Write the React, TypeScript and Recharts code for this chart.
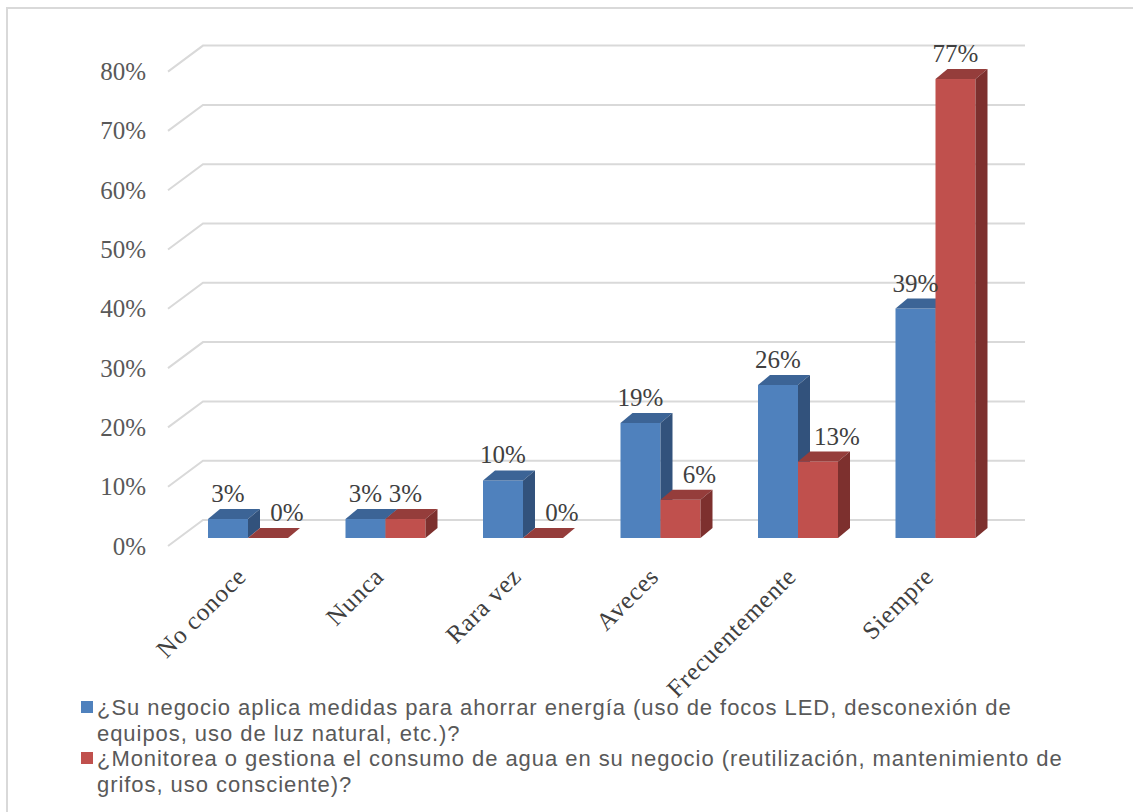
import { Bar, BarChart, CartesianGrid, LabelList, XAxis, YAxis } from "recharts";

// Respuestas (31 negocios) — porcentajes
const CATEGORIES = ["No conoce", "Nunca", "Rara vez", "Aveces", "Frecuentemente", "Siempre"];
const ENERGIA = [0.032, 0.032, 0.097, 0.194, 0.258, 0.387];
const AGUA = [0, 0.032, 0, 0.0645, 0.129, 0.774];
const SERIES_NAMES = [
  "¿Su negocio aplica medidas para ahorrar energía (uso de focos LED, desconexión de equipos, uso de luz natural, etc.)?",
  "¿Monitorea o gestiona el consumo de agua en su negocio (reutilización, mantenimiento de grifos, uso consciente)?",
];
const Y_TICKS = [0, 0.1, 0.2, 0.3, 0.4, 0.5, 0.6, 0.7, 0.8];

const BLUE = { front: "#4f81bd", top: "#3c6496", side: "#32527c" };
const RED = { front: "#c0504d", top: "#953d3b", side: "#7d302e" };

// fake 3D: bar depth, and where the front/back walls sit relative to the bar plane
const BAR_DX = 12;
const BAR_DY = 10;
const FRONT_DX = -11;
const FRONT_DY = 8;
const BACK_DX = 24;
const BACK_DY = -18;

const SERIF = "'Liberation Serif', 'Times New Roman', serif";
const SANS = "'Liberation Sans', Arial, sans-serif";

const rows = CATEGORIES.map((name, i) => ({ name, energia: ENERGIA[i], agua: AGUA[i] }));

const pct = (v: number) => `${Math.round(v * 100)}%`;

function Bar3D(props: any) {
  const { x, y, width: w, height: h, colors } = props;
  if (x == null || y == null) return null;
  return (
    <g>
      <rect x={x} y={y} width={w} height={Math.max(h, 0)} fill={colors.front} />
      <path
        d={`M${x},${y} L${x + BAR_DX},${y - BAR_DY} L${x + w + BAR_DX},${y - BAR_DY} L${x + w},${y} Z`}
        fill={colors.top}
      />
      <path
        d={`M${x + w},${y} L${x + w + BAR_DX},${y - BAR_DY} L${x + w + BAR_DX},${y + h - BAR_DY} L${x + w},${y + h} Z`}
        fill={colors.side}
      />
    </g>
  );
}

function GridLine3D(props: any) {
  const { x1, x2, y1 } = props;
  const fy = y1 + FRONT_DY;
  const by = y1 + BACK_DY;
  return (
    <path
      key={props.key}
      d={`M${x1 + FRONT_DX},${fy} L${x1 + BACK_DX},${by} L${x2 + 21},${by}`}
      fill="none"
      stroke="#d9d9d9"
      strokeWidth={2}
    />
  );
}

function YTick(props: any) {
  const { x, y, payload } = props;
  return (
    <text x={x - 33} y={y + FRONT_DY} dy="0.34em" textAnchor="end" fontFamily={SERIF} fontSize={25} fill="#595959">
      {pct(payload.value)}
    </text>
  );
}

function CategoryTick(props: any) {
  const { x, y, payload } = props;
  const ty = y + 40;
  return (
    <text
      x={x}
      y={ty}
      textAnchor="end"
      transform={`rotate(-45 ${x} ${ty})`}
      fontFamily={SERIF}
      fontSize={25}
      letterSpacing={0.8}
      fill="#404040"
    >
      {payload.value}
    </text>
  );
}

function makeLabel(shiftWhenShorter: boolean) {
  return (props: any) => {
    const { x, y, width, value, index } = props;
    // Excel nudges the water labels right when they sit next to a taller energy bar
    const dx = shiftWhenShorter && ENERGIA[index] > AGUA[index] ? 19 : 0;
    return (
      <text
        key={`lbl-${index}`}
        x={x + width / 2 + dx}
        y={y - 17}
        textAnchor="middle"
        fontFamily={SERIF}
        fontSize={25}
        fill="#404040"
      >
        {pct(value)}
      </text>
    );
  };
}

export default function App() {
  return (
    <div style={{ position: "absolute", left: 0, top: 0, width: 1133, height: 812, overflow: "hidden", background: "#fff" }}>
      <div
        style={{
          position: "absolute",
          left: 6,
          top: 7,
          width: 1200,
          height: 900,
          borderLeft: "2px solid #d9d9d9",
          borderTop: "2px solid #d9d9d9",
        }}
      />
      <div style={{ position: "absolute", left: 0, top: 0 }}>
        <BarChart
          width={1133}
          height={812}
          data={rows}
          margin={{ top: 63.6, right: 129, bottom: 244, left: 119 }}
          barGap={0}
          barSize={40}
        >
          <CartesianGrid vertical={false} horizontal={(p: any) => <GridLine3D {...p} />} />
          <XAxis
            dataKey="name"
            height={30}
            interval={0}
            axisLine={false}
            tickLine={false}
            tickSize={0}
            tickMargin={0}
            tick={<CategoryTick />}
          />
          <YAxis
            width={60}
            domain={[0, 0.8]}
            ticks={Y_TICKS}
            axisLine={false}
            tickLine={false}
            tickSize={0}
            tickMargin={0}
            tick={<YTick />}
          />
          <Bar dataKey="energia" isAnimationActive={false} shape={(p: any) => <Bar3D {...p} colors={BLUE} />}>
            <LabelList dataKey="energia" content={makeLabel(false)} />
          </Bar>
          <Bar dataKey="agua" isAnimationActive={false} shape={(p: any) => <Bar3D {...p} colors={RED} />}>
            <LabelList dataKey="agua" content={makeLabel(true)} />
          </Bar>
        </BarChart>
      </div>
      <div
        style={{
          position: "absolute",
          left: 81,
          top: 695,
          width: 1000,
          fontFamily: SANS,
          fontSize: 22,
          letterSpacing: 0.95,
          lineHeight: "25.7px",
          color: "#595959",
        }}
      >
        {SERIES_NAMES.map((name, i) => (
          <div key={name} style={{ display: "flex", alignItems: "flex-start" }}>
            <span
              style={{
                flex: "none",
                width: 12,
                height: 12,
                marginTop: 6,
                marginRight: 4,
                background: i === 0 ? BLUE.front : RED.front,
              }}
            />
            <span style={{ width: 975 }}>{name}</span>
          </div>
        ))}
      </div>
    </div>
  );
}
